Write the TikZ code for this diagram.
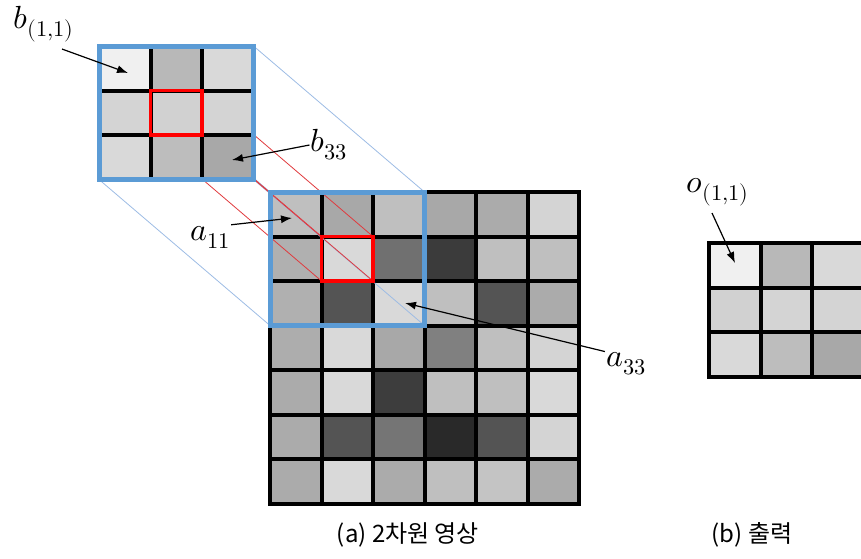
\documentclass[tikz,border=0pt]{standalone}
\usepackage{unicode-math}
\newfontfamily\krfont{Noto Sans CJK KR}
\usetikzlibrary{arrows.meta}
\definecolor{frameblue}{HTML}{5B9BD5}
\definecolor{guideblue}{HTML}{9DBCE4}
\definecolor{guidered}{HTML}{E03A3E}
\pgfdeclarelayer{bottom}
\pgfdeclarelayer{guides}
\pgfsetlayers{bottom,guides,main}
\tikzset{
  gridline/.style={line width=4pt, black},
  winframe/.style={draw=frameblue, line width=5pt, minimum width=154.5pt, minimum height=133.5pt, inner sep=0pt, outer sep=0pt, anchor=north west},
  midframe/.style={draw=red, line width=3.5pt, minimum width=51.5pt, minimum height=44.5pt, inner sep=0pt, outer sep=0pt, anchor=north west},
  guide/.style={line width=0.8pt},
  sym/.style={font=\fontsize{32}{35}\selectfont, inner sep=1pt},
  pointer/.style={-{Latex[length=11pt,width=8pt]}, line width=1.2pt},
  captiontext/.style={font=\krfont\fontsize{24}{27}\selectfont}
}
\begin{document}
\begin{tikzpicture}[x=1pt,y=-1pt]
    \useasboundingbox (0,0) rectangle (861,558);

    \begin{pgfonlayer}{bottom}
    \foreach \row [count=\r from 0] in {{25,34,25,34,33,17},{31,15,56,77,25,25},{31,67,15,25,67,33},{32,15,34,50,25,17},{33,15,76,25,25,15},{33,67,54,84,67,17},{33,15,33,25,23,33}}
        \foreach \v [count=\c from 0] in \row
            \fill[black!\v] ({270+\c*51.5},{192+\r*44.5}) rectangle ++(51.5,44.5);
    \foreach \c in {1,...,5}
        \draw[gridline] ({270+\c*51.5},192) -- ++(0,311.5);
    \foreach \r in {1,...,6}
        \draw[gridline] (270,{192+\r*44.5}) -- ++(309,0);
    \draw[gridline] (270,192) rectangle (579,503.5);
    \end{pgfonlayer}

    \node[winframe] (win) at (270,192) {};
    \node[midframe] (winmid) at (321.5,236.5) {};

    \foreach \row [count=\r from 0] in {{6,28,15},{17,18,17},{15,26,34}}
        \foreach \v [count=\c from 0] in \row
            \fill[black!\v] ({99+\c*51.5},{46+\r*44.5}) rectangle ++(51.5,44.5);
    \foreach \c in {1,2}
        \draw[gridline] ({99+\c*51.5},46) -- ++(0,133.5);
    \foreach \r in {1,2}
        \draw[gridline] (99,{46+\r*44.5}) -- ++(154.5,0);
    \node[winframe] (kern) at (99,46) {};
    \node[midframe] (kernmid) at (150.5,90.5) {};

    \begin{pgfonlayer}{guides}
    \foreach \corner in {north west,north east,south east,south west} {
        \draw[guide, guideblue] (kern.\corner) -- (win.\corner);
        \draw[guide, guidered] (kernmid.\corner) -- (winmid.\corner);
    }
    \end{pgfonlayer}

    \foreach \row [count=\r from 0] in {{6,28,15},{18,17,17},{15,26,34}}
        \foreach \v [count=\c from 0] in \row
            \fill[black!\v] ({709+\c*51.5},{243+\r*44.5}) rectangle ++(51.5,44.5);
    \foreach \c in {1,2,3}
        \draw[gridline] ({709+\c*51.5},243) -- ++(0,133.5);
    \foreach \r in {1,2}
        \draw[gridline] (709,{243+\r*44.5}) -- ++(154.5,0);
    \draw[gridline] (709,243) rectangle (863.5,376.5);

    \node[sym] (bone) at (44,24) {$b_{(1,1)}$};
    \node[sym] (bthree) at (329,145) {$b_{33}$};
    \node[sym] (aone) at (210,237) {$a_{11}$};
    \node[sym] (athree) at (626,364) {$a_{33}$};
    \node[sym] (oone) at (718,192) {$o_{(1,1)}$};

    \coordinate (bonetip) at (128,73);
    \coordinate (bthreetip) at (232,160);
    \coordinate (aonetip) at (292,218);
    \coordinate (athreetip) at (405,303);
    \coordinate (oonetip) at (735,263);

    \draw[pointer] ([xshift=18pt,yshift=-6pt]bone.south) -- (bonetip);
    \draw[pointer] (bthree.west) -- (bthreetip);
    \draw[pointer] (aone.north east) -- (aonetip);
    \draw[pointer] (athree.north west) -- (athreetip);
    \draw[pointer] ([xshift=-6pt,yshift=-6pt]oone.south) -- (oonetip);

    \node[captiontext] (capa) at (408,535) {(a) 2차원 영상};
    \node[captiontext] (capb) at (752,535) {(b) 출력};
\end{tikzpicture}
\end{document}
